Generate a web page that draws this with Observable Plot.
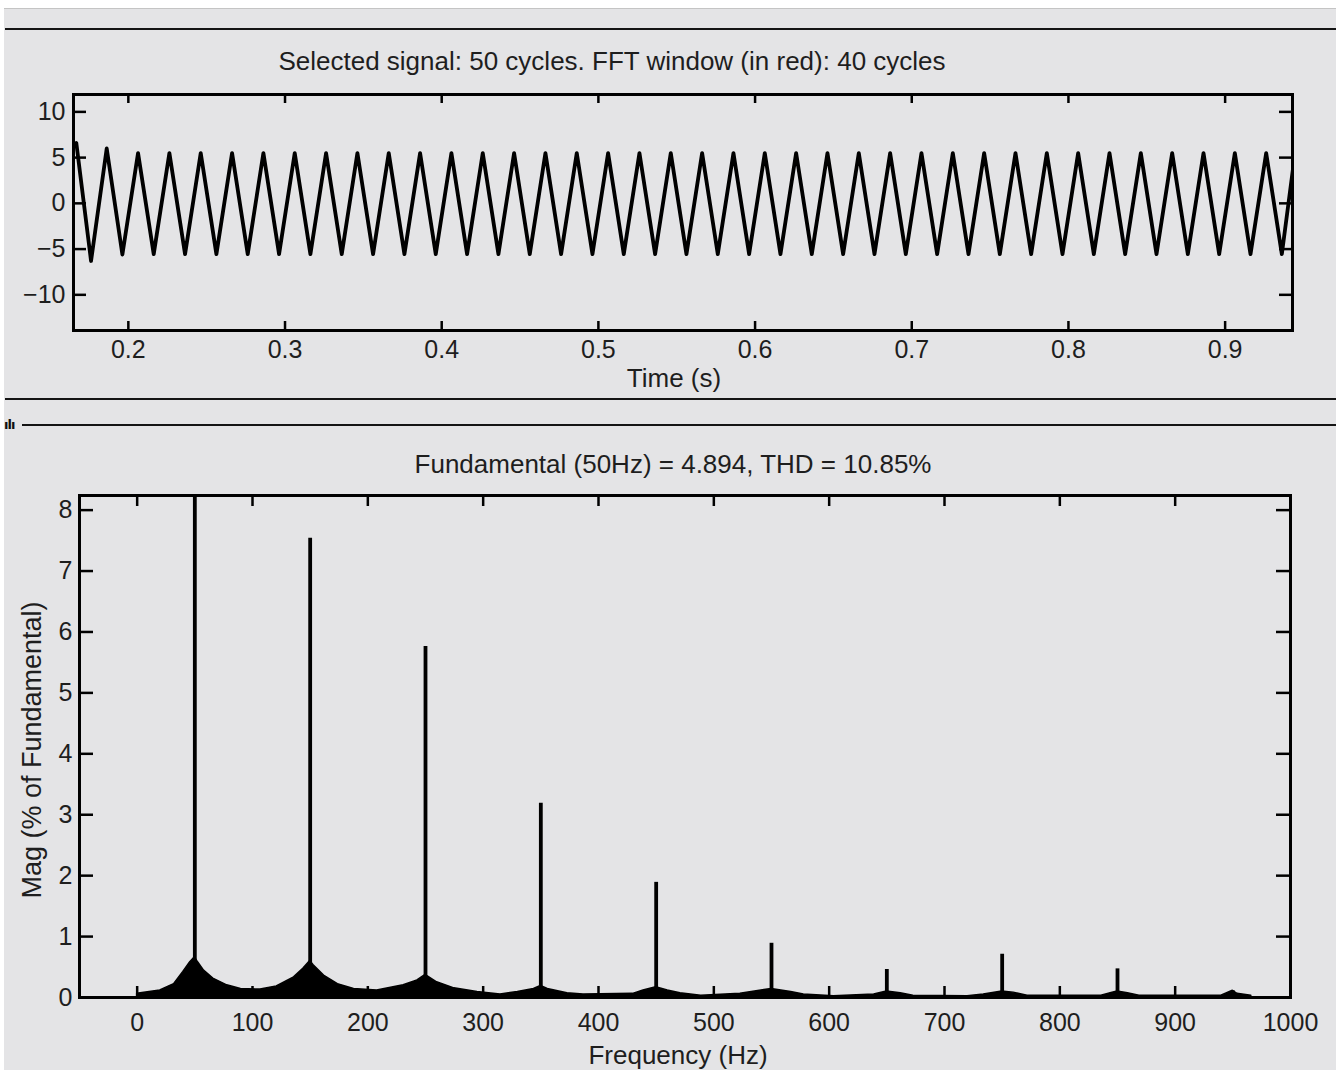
<!DOCTYPE html>
<html>
<head>
<meta charset="utf-8">
<script src="https://cdn.jsdelivr.net/npm/d3@7"></script>
<script src="https://cdn.jsdelivr.net/npm/@observablehq/plot@0.6"></script>
<style>
  body { margin: 0; background: #ffffff; }
  #page { position: relative; width: 1336px; height: 1072px; overflow: hidden; font-family: "Liberation Sans", Arial, sans-serif; color: #1e1e1e; }
  .abs { position: absolute; }
  .lbl { position: absolute; transform: translate(-50%, -50%); line-height: 1; white-space: nowrap; }
</style>
</head>
<body>
<div id="page">
  <div class="abs" style="left:4px;top:8px;width:1332px;height:1061px;background:#e4e4e6;border-top:1px solid #c4c4c4;"></div>
  <div class="abs" style="left:5px;top:28px;width:1331px;height:2px;background:#141414;"></div>
  <div class="abs" style="left:5px;top:398px;width:1331px;height:2px;background:#141414;"></div>
  <div class="abs" style="left:22px;top:424px;width:1314px;height:2px;background:#141414;"></div>
  <div class="abs" style="left:4px;top:418px;font:bold 13px 'DejaVu Sans';color:#111;line-height:1;letter-spacing:-1px;">ılı</div>
  <div id="topChart" class="abs" style="left:0;top:80px;"></div>
  <div id="bottomChart" class="abs" style="left:0;top:480px;"></div>
  <div class="lbl" style="left:612px;top:61px;font-size:26px;">Selected signal: 50 cycles. FFT window (in red): 40 cycles</div>
  <div class="lbl" style="left:674px;top:378px;font-size:26px;">Time (s)</div>
  <div class="lbl" style="left:673px;top:464px;font-size:26px;">Fundamental (50Hz) = 4.894, THD = 10.85%</div>
  <div class="lbl" style="left:678px;top:1055px;font-size:26px;">Frequency (Hz)</div>
  <div class="lbl" style="left:32px;top:750px;font-size:27px;transform:translate(-50%,-50%) rotate(-90deg);">Mag (% of Fundamental)</div>
</div>
<script>
// ---------- top panel: selected signal ----------
const timeTicks = [0.2, 0.3, 0.4, 0.5, 0.6, 0.7, 0.8, 0.9];
const signalTicks = [-10, -5, 0, 5, 10];
const waveTime = [0.165, 0.1668,
  0.1762, 0.1862, 0.1962, 0.2062, 0.2162, 0.2262, 0.2362, 0.2462, 0.2562, 0.2662,
  0.2762, 0.2862, 0.2962, 0.3062, 0.3162, 0.3262, 0.3362, 0.3462, 0.3562, 0.3662,
  0.3762, 0.3862, 0.3962, 0.4062, 0.4162, 0.4262, 0.4362, 0.4462, 0.4562, 0.4662,
  0.4762, 0.4862, 0.4962, 0.5062, 0.5162, 0.5262, 0.5362, 0.5462, 0.5562, 0.5662,
  0.5762, 0.5862, 0.5962, 0.6062, 0.6162, 0.6262, 0.6362, 0.6462, 0.6562, 0.6662,
  0.6762, 0.6862, 0.6962, 0.7062, 0.7162, 0.7262, 0.7362, 0.7462, 0.7562, 0.7662,
  0.7762, 0.7862, 0.7962, 0.8062, 0.8162, 0.8262, 0.8362, 0.8462, 0.8562, 0.8662,
  0.8762, 0.8862, 0.8962, 0.9062, 0.9162, 0.9262, 0.9362,
  0.9434];
const waveValue = [6.3, 6.6,
  -6.3, 6.0, -5.6, 5.5, -5.55, 5.5, -5.55, 5.5, -5.55, 5.5,
  -5.55, 5.5, -5.55, 5.5, -5.55, 5.5, -5.55, 5.5, -5.55, 5.5,
  -5.55, 5.5, -5.55, 5.5, -5.55, 5.5, -5.55, 5.5, -5.55, 5.5,
  -5.55, 5.5, -5.55, 5.5, -5.55, 5.5, -5.55, 5.5, -5.55, 5.5,
  -5.55, 5.5, -5.55, 5.5, -5.55, 5.5, -5.55, 5.5, -5.55, 5.5,
  -5.55, 5.5, -5.55, 5.5, -5.55, 5.5, -5.55, 5.5, -5.55, 5.5,
  -5.55, 5.5, -5.55, 5.5, -5.55, 5.5, -5.55, 5.5, -5.55, 5.5,
  -5.55, 5.5, -5.55, 5.5, -5.55, 5.5, -5.55,
  3.9];

// ---------- bottom panel: FFT spectrum ----------
const freqTicks = [0, 100, 200, 300, 400, 500, 600, 700, 800, 900, 1000];
const magTicks = [0, 1, 2, 3, 4, 5, 6, 7, 8];
const harmonicFreq = [50, 150, 250, 350, 450, 550, 650, 750, 850, 950];
const harmonicMag = [100, 7.54, 5.76, 3.19, 1.89, 0.89, 0.46, 0.71, 0.47, 0.11];
const floorFreq = [0, 20, 32, 40, 46, 50, 52, 58, 66, 78, 90, 107, 121, 136, 144, 150, 153, 162, 174, 188,
  208, 231, 243, 250, 260, 275, 295, 315, 330, 344, 350, 356, 373, 387, 430, 439, 450, 460, 471, 489,
  523, 550, 567, 578, 604, 639, 650, 662, 673, 720, 734, 750, 760, 772, 836, 844, 850, 859, 869, 940,
  950, 954, 966];
const floorMag = [0.06, 0.115, 0.22, 0.42, 0.58, 0.66, 0.6, 0.44, 0.31, 0.2, 0.14, 0.13, 0.18, 0.33, 0.47, 0.6, 0.53, 0.36, 0.22, 0.14,
  0.115, 0.2, 0.28, 0.37, 0.25, 0.15, 0.09, 0.05, 0.09, 0.14, 0.19, 0.14, 0.07, 0.05, 0.06, 0.115, 0.17, 0.115, 0.07, 0.03,
  0.06, 0.14, 0.09, 0.05, 0.02, 0.05, 0.1, 0.07, 0.03, 0.02, 0.05, 0.1, 0.08, 0.03, 0.03, 0.07, 0.1, 0.07, 0.03, 0.03,
  0.11, 0.06, 0.03];

const fontStyle = {
  fontFamily: "'Liberation Sans', Arial, sans-serif",
  fontSize: "25px",
  background: "transparent",
  color: "#1e1e1e",
  overflow: "visible"
};

// top
{
  const W = 1336, H = 320, mt = 14, mb = 70, ml = 73, mr = 44;
  const iw = W - ml - mr, ih = H - mt - mb;
  const wave = waveTime.map((t, i) => ({t, v: waveValue[i]}));
  const tickStyle = {stroke: "black", strokeWidth: 2.5};
  const chart = Plot.plot({
    width: W, height: H, marginTop: mt, marginBottom: mb, marginLeft: ml, marginRight: mr,
    style: fontStyle,
    x: {domain: [0.165, 0.943]},
    y: {domain: [-13.9, 11.9]},
    marks: [
      Plot.line(wave, {x: "t", y: "v", stroke: "black", strokeWidth: 3.8, strokeLinejoin: "round", clip: true}),
      Plot.ruleX(timeTicks, {x: d => d, insetTop: ih - 9, ...tickStyle}),
      Plot.ruleX(timeTicks, {x: d => d, insetBottom: ih - 9, ...tickStyle}),
      Plot.ruleY(signalTicks, {y: d => d, insetRight: iw - 13, ...tickStyle}),
      Plot.ruleY(signalTicks, {y: d => d, insetLeft: iw - 13, ...tickStyle}),
      Plot.axisX(timeTicks, {tickSize: 0, tickPadding: 10, tickFormat: d3.format(".1f"), label: null}),
      Plot.axisY(signalTicks, {tickSize: 0, tickPadding: 8, tickFormat: d3.format("d"), label: null}),
      Plot.frame({stroke: "black", strokeWidth: 3})
    ]
  });
  document.getElementById("topChart").append(chart);
}

// bottom
{
  const W = 1336, H = 592, mt = 15, mb = 75, ml = 79, mr = 46;
  const iw = W - ml - mr, ih = H - mt - mb;
  const floor = floorFreq.map((f, i) => ({f, m: floorMag[i]}));
  const harmonics = harmonicFreq.map((f, i) => ({f, m: harmonicMag[i]}));
  const tickStyle = {stroke: "black", strokeWidth: 2.5};
  const chart = Plot.plot({
    width: W, height: H, marginTop: mt, marginBottom: mb, marginLeft: ml, marginRight: mr,
    style: fontStyle,
    x: {domain: [-50, 1000]},
    y: {domain: [0, 8.24]},
    marks: [
      Plot.areaY(floor, {x: "f", y: "m", fill: "black", stroke: "black", strokeWidth: 1.5, curve: "linear"}),
      Plot.ruleX(harmonics, {x: "f", y1: 0, y2: "m", stroke: "black", strokeWidth: 3.8, clip: true}),
      Plot.ruleX(freqTicks, {x: d => d, insetTop: ih - 11, ...tickStyle}),
      Plot.ruleX(freqTicks, {x: d => d, insetBottom: ih - 11, ...tickStyle}),
      Plot.ruleY(magTicks, {y: d => d, insetRight: iw - 14, ...tickStyle}),
      Plot.ruleY(magTicks, {y: d => d, insetLeft: iw - 14, ...tickStyle}),
      Plot.axisX(freqTicks, {tickSize: 0, tickPadding: 16, tickFormat: d3.format("d"), label: null}),
      Plot.axisY(magTicks, {tickSize: 0, tickPadding: 7, tickFormat: d3.format("d"), label: null}),
      Plot.frame({stroke: "black", strokeWidth: 3})
    ]
  });
  document.getElementById("bottomChart").append(chart);
}
</script>
</body>
</html>
